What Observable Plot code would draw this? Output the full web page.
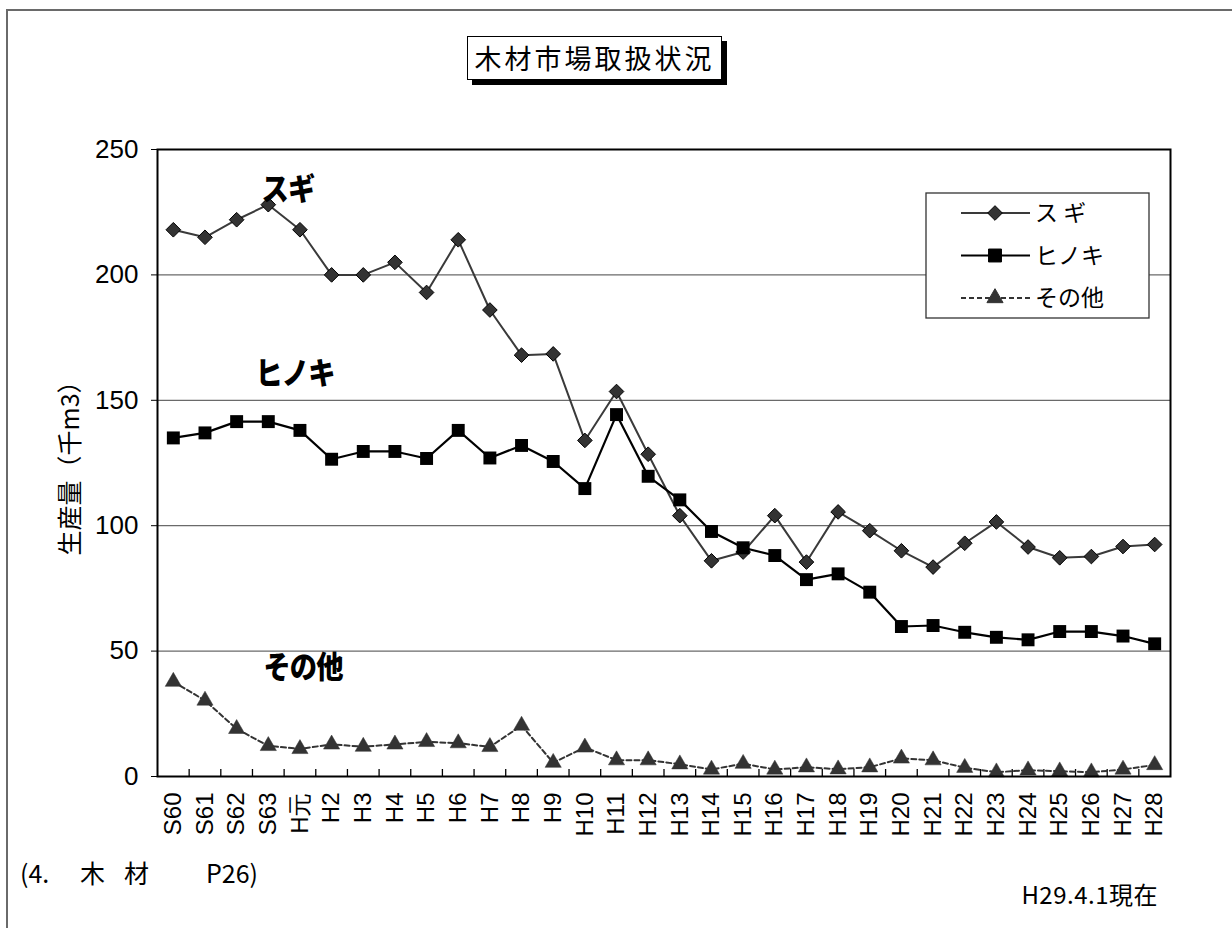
<!DOCTYPE html>
<html><head><meta charset="utf-8">
<script src="https://cdn.jsdelivr.net/npm/d3@7"></script>
<script src="https://cdn.jsdelivr.net/npm/@observablehq/plot@0.6"></script>
<style>
html,body{margin:0;padding:0;background:#fff;overflow:hidden}
#wrap{position:relative;width:1232px;height:928px;overflow:hidden;font-family:"Noto Sans CJK JP","Noto Sans",sans-serif;color:#000}
#wrap > *{position:absolute}
#border{left:6px;top:9px;width:1400px;height:1100px;border-top:2px solid #6a6a6a;border-left:2px solid #6a6a6a}
#title{left:467px;top:36px;width:255px;height:44px;border:1px solid #000;background:#fff;box-shadow:5px 5px 0 #000;font-size:27px;letter-spacing:3px;line-height:42px;text-align:center;box-sizing:border-box}
.ann{font-weight:900;font-size:31px;transform:translate(-50%,-50%) scaleX(0.88);white-space:nowrap;letter-spacing:-1px}
#ylab{left:68px;top:462px;transform:translate(-50%,-50%) rotate(-90deg);font-size:25px;white-space:nowrap}
.cap{font-size:25px;white-space:pre;transform:translateY(-50%)}
#cap2{right:74px;top:893px;transform:translateY(-50%);font-size:24px;letter-spacing:0.5px;white-space:pre}
</style></head><body><div id="wrap"><div id="border"></div></div>
<script>
// ---- data ----
const categories = ["S60","S61","S62","S63","H元","H2","H3","H4","H5","H6","H7","H8","H9","H10","H11","H12","H13","H14","H15","H16","H17","H18","H19","H20","H21","H22","H23","H24","H25","H26","H27","H28"];
const sugi   = [218,215,222,228,218,200,200,205,193,214,186,168,168.5,134,153.5,128.5,104,86,89.5,104,85.5,105.5,98,90,83.5,93,101.5,91.5,87.2,87.7,91.7,92.5];
const hinoki = [135,137,141.5,141.5,138,126.5,129.6,129.6,126.8,138,127,132,125.6,114.8,144.3,119.7,110.3,97.7,91.2,88.1,78.5,80.8,73.5,59.8,60.2,57.5,55.5,54.5,57.8,57.8,56,52.9];
const sonota = [37.8,30.3,19,12.2,11,12.8,11.9,12.8,13.8,13.3,11.8,20.3,5.5,11.6,6.5,6.5,4.9,2.8,5.1,2.8,3.7,2.9,3.7,7.2,6.5,3.5,1.7,2.5,2.1,1.7,2.8,4.6];
const yTicks = [0,50,100,150,200,250];
const gridValues = [50,100,150,200];
const seriesNames = ["スギ","ヒノキ","その他"];
const legendLabels = ["ス ギ","ヒノキ","その他"];
const titleText = "木材市場取扱状況";
const yLabel = "生産量（千m3）";
const caption1Parts = ["(4.", "木", "材", "P26)"];
const caption2 = "H29.4.1現在";

// ---- build ----
const toRows = (arr) => arr.map((v, i) => ({i, cat: categories[i], v}));
const sugiRows = toRows(sugi), hinokiRows = toRows(hinoki), sonotaRows = toRows(sonota);
const boundaries = d3.range(1, categories.length).map(i => i - 0.5);

const chart = Plot.plot({
  width: 1232, height: 928,
  marginLeft: 157, marginRight: 62, marginTop: 149, marginBottom: 152,
  style: {fontFamily: "'Liberation Sans', Arial, sans-serif", background: "transparent", color: "#000", overflow: "visible"},
  x: {type: "linear", domain: [-0.5, categories.length - 0.5]},
  y: {domain: [0, 250]},
  marks: [
    Plot.ruleY(gridValues, {stroke: "#6a6a6a", strokeWidth: 1.3}),
    Plot.ruleX(boundaries, {y1: 0, y2: 0, insetTop: -7, stroke: "#000", strokeWidth: 1.3}),
    Plot.line(sonotaRows, {x: "i", y: "v", stroke: "#333", strokeWidth: 2, strokeDasharray: "5,3"}),
    Plot.line(sugiRows, {x: "i", y: "v", stroke: "#3a3a3a", strokeWidth: 2}),
    Plot.line(hinokiRows, {x: "i", y: "v", stroke: "#000", strokeWidth: 2.2}),
    Plot.dot(sonotaRows, {x: "i", y: "v", symbol: "triangle", r: 6, fill: "#333", stroke: "#333", strokeWidth: 0.5}),
    Plot.dot(sugiRows, {x: "i", y: "v", symbol: "diamond2", r: 6.6, fill: "#333", stroke: "#000", strokeWidth: 1}),
    Plot.dot(hinokiRows, {x: "i", y: "v", symbol: "square", r: 7.3, fill: "#000"}),
    Plot.frame({stroke: "#000", strokeWidth: 2}),
    Plot.axisY({ticks: yTicks, tickSize: 6, tickPadding: 13, fontSize: 26, label: null}),
    Plot.axisX({ticks: d3.range(categories.length), tickFormat: i => categories[i], tickRotate: -90, tickSize: 0, tickPadding: 16, fontSize: 24, label: null})
  ]
});
chart.style.left = "0px"; chart.style.top = "0px";
const wrap = document.getElementById("wrap");
wrap.appendChild(chart);

// title
const t = document.createElement("div"); t.id = "title"; t.textContent = titleText; wrap.appendChild(t);
// y label
const yl = document.createElement("div"); yl.id = "ylab"; yl.textContent = yLabel; wrap.appendChild(yl);
// captions
const capX = [20, 80, 124, 206];
caption1Parts.forEach((p, k) => {
  const c = document.createElement("div"); c.className = "cap"; c.textContent = p;
  c.style.left = capX[k] + "px"; c.style.top = "872px"; wrap.appendChild(c);
});
const c2 = document.createElement("div"); c2.id = "cap2"; c2.textContent = caption2; wrap.appendChild(c2);
// series annotations
const annPos = [[288,186],[295,370],[303,664]];
seriesNames.forEach((n, k) => {
  const a = document.createElement("div"); a.className = "ann"; a.textContent = n;
  a.style.left = annPos[k][0] + "px"; a.style.top = annPos[k][1] + "px"; wrap.appendChild(a);
});

// legend
const lg = d3.create("svg").attr("width", 226).attr("height", 128)
  .style("left", "925px").style("top", "192px");
lg.append("rect").attr("x", 1).attr("y", 1).attr("width", 223).attr("height", 125)
  .attr("fill", "#fff").attr("stroke", "#333").attr("stroke-width", 1.3);
const styles = [
  {stroke: "#3a3a3a", dash: null, sym: d3.symbolDiamond2, size: 137, fill: "#333", sw: 2},
  {stroke: "#000", dash: null, sym: d3.symbolSquare, size: 167, fill: "#000", sw: 2.2},
  {stroke: "#333", dash: "5,3", sym: d3.symbolTriangle, size: 113, fill: "#333", sw: 2}
];
legendLabels.forEach((lab, k) => {
  const cy = 21 + k * 42.5;
  const s = styles[k];
  const g = lg.append("g").attr("transform", `translate(0,${cy})`);
  g.append("line").attr("x1", 36).attr("x2", 105).attr("stroke", s.stroke).attr("stroke-width", s.sw).attr("stroke-dasharray", s.dash);
  g.append("path").attr("d", d3.symbol(s.sym, s.size)()).attr("transform", "translate(70,0)").attr("fill", s.fill).attr("stroke", k === 0 ? "#000" : s.fill);
  g.append("text").attr("x", 110).attr("dy", "0.36em").attr("font-size", 23)
    .attr("font-family", "'Noto Sans CJK JP', sans-serif").style("white-space", "pre").text(lab);
});
wrap.appendChild(lg.node());
</script>
</body></html>
